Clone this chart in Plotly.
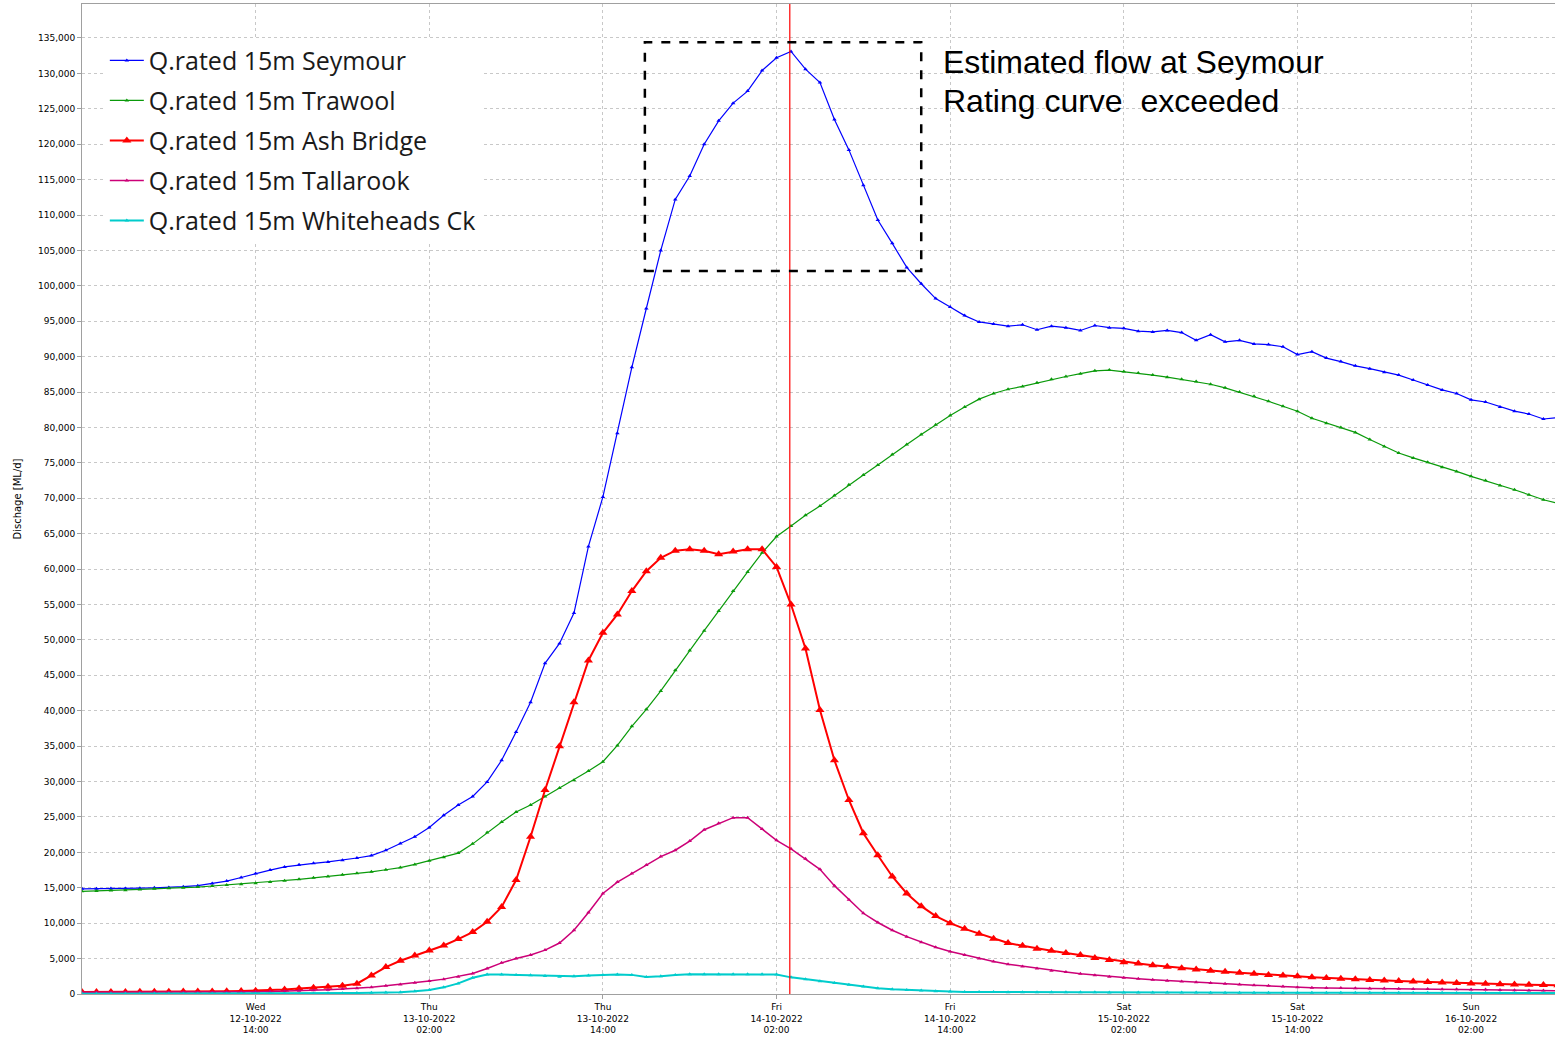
import pandas as pd
import plotly.graph_objects as go

# ---- data (hourly readings from 12-10-2022 02:00) ----
start_time = "2022-10-12 02:00"
n_hours = 103

seymour = [14850, 14850, 14900, 14900, 14950, 15000, 15050, 15150, 15300, 15600,
           15950, 16450, 17000, 17500, 17950, 18250, 18450, 18650, 18900, 19200,
           19550, 20300, 21250, 22200, 23500, 25250, 26700, 27900, 29950, 33000,
           37000, 41200, 46700, 49500, 53800, 63200, 70200, 79200, 88500, 96800,
           105000, 112200, 115500, 120000, 123300, 125800, 127500, 130400, 132200, 133100,
           130600, 128700, 123500, 119200, 114200, 109300, 106000, 102600, 100300, 98200,
           97000, 95800, 94900, 94600, 94300, 94500, 93800, 94300, 94100, 93700,
           94400, 94100, 94000, 93600, 93500, 93700, 93400, 92300, 93100, 92100,
           92300, 91800, 91700, 91400, 90300, 90700, 89800, 89300, 88700, 88300,
           87800, 87400, 86700, 86000, 85300, 84800, 83900, 83600, 82900, 82300,
           81900, 81200, 81400]

trawool = [14500, 14550, 14600, 14650, 14750, 14850, 14950, 15000, 15100, 15250,
           15400, 15500, 15650, 15800, 16000, 16200, 16400, 16600, 16850, 17050,
           17250, 17550, 17850, 18300, 18800, 19300, 19900, 21200, 22800, 24300,
           25700, 26700, 27900, 29100, 30200, 31500, 32800, 35100, 37800, 40200,
           42800, 45700, 48500, 51300, 54100, 56900, 59600, 62300, 64600, 66100,
           67600, 68900, 70400, 71900, 73300, 74700, 76200, 77600, 79000, 80400,
           81700, 82900, 84000, 84800, 85400, 85800, 86300, 86800, 87200, 87600,
           88000, 88100, 87900, 87700, 87400, 87100, 86800, 86500, 86100, 85600,
           85000, 84400, 83700, 83000, 82300, 81300, 80600, 80000, 79300, 78300,
           77300, 76400, 75700, 75100, 74400, 73800, 73100, 72500, 71800, 71200,
           70500, 69800, 69300]

ash_bridge = [300, 300, 300, 300, 320, 320, 330, 340, 350, 370,
              390, 420, 470, 540, 640, 760, 900, 1030, 1150, 1450,
              2600, 3800, 4700, 5450, 6150, 6850, 7750, 8750, 10200, 12300,
              16100, 22200, 28800, 35000, 41200, 47100, 51000, 53600, 56900, 59700,
              61600, 62600, 62800, 62600, 62100, 62500, 62800, 62800, 60300, 55000,
              48800, 40100, 33000, 27400, 22700, 19600, 16600, 14200, 12400, 11000,
              10000, 9200, 8500, 7800, 7200, 6800, 6400, 6100, 5800, 5500,
              5100, 4800, 4500, 4300, 4050, 3850, 3650, 3450, 3300, 3150,
              3000, 2850, 2700, 2600, 2500, 2380, 2270, 2170, 2070, 1980,
              1900, 1820, 1750, 1680, 1610, 1550, 1490, 1440, 1390, 1340,
              1300, 1260, 1230]

tallarook = [250, 250, 250, 250, 250, 250, 250, 250, 250, 260,
             270, 290, 320, 360, 400, 450, 520, 600, 700, 800,
             950, 1150, 1350, 1600, 1850, 2100, 2450, 2900, 3600, 4400,
             5000, 5500, 6200, 7200, 9000, 11500, 14200, 15800, 17000, 18200,
             19400, 20300, 21600, 23200, 24100, 24900, 24900, 23300, 21700, 20500,
             19100, 17600, 15300, 13300, 11400, 10100, 9000, 8100, 7300, 6600,
             6000, 5500, 5000, 4600, 4200, 3900, 3600, 3300, 3100, 2850,
             2650, 2450, 2300, 2150, 2000, 1880, 1760, 1650, 1550, 1450,
             1350, 1250, 1150, 1050, 950, 900, 860, 830, 800, 780,
             760, 740, 720, 700, 680, 670, 650, 620, 580, 540,
             500, 480, 460]

whiteheads = [50, 50, 50, 50, 50, 50, 50, 50, 50, 50,
              50, 50, 50, 50, 50, 60, 80, 100, 120, 140,
              170, 200, 260, 380, 570, 940, 1500, 2300, 2750, 2750,
              2700, 2650, 2550, 2450, 2500, 2600, 2700, 2750, 2700, 2400,
              2500, 2700, 2780, 2780, 2780, 2780, 2780, 2780, 2750, 2350,
              2100, 1800, 1550, 1300, 1050, 820, 680, 580, 480, 400,
              340, 300, 280, 270, 260, 250, 250, 240, 240, 230,
              230, 220, 220, 210, 210, 200, 200, 200, 190, 190,
              190, 180, 180, 180, 180, 170, 170, 170, 170, 170,
              160, 160, 160, 160, 160, 150, 150, 150, 150, 150,
              150, 150, 150]

series_names = ["Q.rated 15m Seymour", "Q.rated 15m Trawool", "Q.rated 15m Ash Bridge",
                "Q.rated 15m Tallarook", "Q.rated 15m Whiteheads Ck"]

tick_vals = ["2022-10-12 14:00", "2022-10-13 02:00", "2022-10-13 14:00", "2022-10-14 02:00",
             "2022-10-14 14:00", "2022-10-15 02:00", "2022-10-15 14:00", "2022-10-16 02:00"]
tick_text = ["Wed<br>12-10-2022<br>14:00", "Thu<br>13-10-2022<br>02:00", "Thu<br>13-10-2022<br>14:00",
             "Fri<br>14-10-2022<br>02:00", "Fri<br>14-10-2022<br>14:00", "Sat<br>15-10-2022<br>02:00",
             "Sat<br>15-10-2022<br>14:00", "Sun<br>16-10-2022<br>02:00"]

x_range = ["2022-10-12 02:00", "2022-10-16 07:48"]
y_range = [0, 139800]

marker_time = "2022-10-14 02:55"
box_x = ["2022-10-13 16:54", "2022-10-14 12:00"]
box_y = [102100, 134400]

note_lines = ["Estimated flow at Seymour", "Rating curve  exceeded"]

# ---- figure ----
times = pd.date_range(start_time, periods=n_hours, freq="h").strftime("%Y-%m-%d %H:%M").tolist()

styles = [
    dict(color="#0000FF", lw=1.2, ms=4),
    dict(color="#0A9A0A", lw=1.2, ms=4),
    dict(color="#FF0000", lw=2.0, ms=8),
    dict(color="#CC0077", lw=1.5, ms=4),
    dict(color="#00CCCC", lw=2.0, ms=4),
]

fig = go.Figure()
for name, vals, st in zip(series_names, [seymour, trawool, ash_bridge, tallarook, whiteheads], styles):
    fig.add_trace(go.Scatter(
        x=times, y=vals, name=name, mode="lines+markers", legendgroup=name,
        line=dict(color=st["color"], width=st["lw"]),
        marker=dict(symbol="triangle-up", size=st["ms"], color=st["color"]),
    ))

fig.add_shape(type="line", xref="x", yref="paper", x0=marker_time, x1=marker_time, y0=0, y1=1,
              line=dict(color="#FF0000", width=1.2))
fig.add_shape(type="rect", xref="x", yref="y", x0=box_x[0], x1=box_x[1], y0=box_y[0], y1=box_y[1],
              line=dict(color="black", width=2.5, dash="dash"))

for i, line in enumerate(note_lines):
    fig.add_annotation(text=line, xref="paper", yref="paper", x=0.583, y=0.9415 - i * 0.0394,
                       xanchor="left", yanchor="middle", showarrow=False,
                       font=dict(family="Liberation Sans, Arial", size=32, color="black"))

grid = dict(showgrid=True, gridcolor="#C8C8C8", griddash="dot", gridwidth=1,
            showline=True, linecolor="#A0A0A0", linewidth=1, mirror=True,
            ticks="outside", ticklen=4, tickcolor="#A0A0A0",
            tickfont=dict(family="DejaVu Sans", size=9, color="black"), zeroline=False)

fig.update_xaxes(type="date", range=x_range, tickvals=tick_vals, ticktext=tick_text, **grid)
fig.update_yaxes(range=y_range, dtick=5000, tickformat=",d",
                 title=dict(text="Dischage [ML/d]", font=dict(family="DejaVu Sans", size=10, color="black"), standoff=14),
                 **grid)

fig.update_layout(
    width=1555, height=1037,
    margin=dict(l=82, r=0, t=4, b=43),
    paper_bgcolor="white", plot_bgcolor="white",
    showlegend=True,
    legend=dict(x=0.0155, y=0.966, xanchor="left", yanchor="top", bgcolor="white",
                font=dict(family="Open Sans", size=25, color="#1A1A1A"),
                tracegroupgap=4.5, traceorder="grouped", itemwidth=34),
)

fig.write_html("out.html", config={"displayModeBar": False},
               post_script="document.body.style.margin='0';document.body.style.overflow='hidden';")
